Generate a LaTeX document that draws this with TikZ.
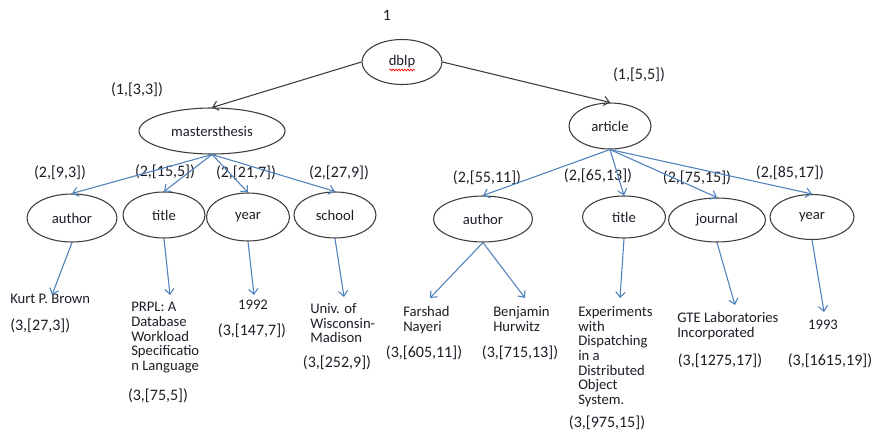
\documentclass[tikz,border=0pt]{standalone}
\usepackage{fontspec}
\setmainfont{Carlito}
\usetikzlibrary{shapes.geometric,arrows.meta,decorations.pathmorphing}
\definecolor{linkblue}{RGB}{79,129,189}
\definecolor{rim}{RGB}{60,60,60}
\definecolor{ink}{RGB}{30,30,40}
\tikzset{
  oval/.style 2 args={ellipse, draw=rim, line width=0.8pt, inner sep=0pt,
    minimum width=#1*0.75pt, minimum height=#2*0.75pt,
    font=\fontsize{11}{11}\selectfont, text=ink},
  tag/.style={font=\fontsize{12}{12}\selectfont, text=ink, inner sep=0pt},
  leaf/.style={font=\fontsize{11}{11}\selectfont, text=ink, inner sep=0pt, align=left},
  mainlink/.style={draw=rim, line width=0.8pt, -{Straight Barb[length=4pt,width=7pt]}},
  sublink/.style={draw=linkblue, line width=0.8pt, -{Straight Barb[length=4pt,width=7pt]}}
}
\begin{document}
\begin{tikzpicture}[x=0.75pt,y=-0.75pt]
\useasboundingbox[fill=white] (0,0) rectangle (872,435);

% level numbers and labels
\node[tag] (lvl) at (387,15) {1};
\node[tag] (l13) at (137,90) {(1,[3,3])};
\node[tag] (l15) at (639,75) {(1,[5,5])};

% root and its children
\node[oval={80}{45}] (dblp) at (402,62) {dblp};
\draw[red, line width=0.5pt, decorate, decoration={snake, amplitude=0.7pt, segment length=2.2pt}]
  ([xshift=-9.5pt,yshift=-6pt]dblp.center) -- ([xshift=9.5pt,yshift=-6pt]dblp.center);
\node[oval={146}{46}] (mt) at (212,131) {mastersthesis};
\node[oval={82}{46}] (art) at (610,126) {article};
\draw[mainlink] (dblp.west) -- (mt.north);
\draw[mainlink] (dblp.east) -- (art.north);

% mastersthesis subtree
\node[tag] (l2a) at (60,173) {(2,[9,3])};
\node[tag] (l2b) at (165,172) {(2,[15,5])};
\node[tag] (l2c) at (246,173) {(2,[21,7])};
\node[tag] (l2d) at (339,173) {(2,[27,9])};
\node[oval={90}{48}] (au1) at (72,218) {author};
\node[oval={82}{46}] (ti1) at (164,215) {title};
\node[oval={83}{48}] (ye1) at (248,217) {year};
\node[oval={82}{46}] (sc1) at (335,215) {school};
\draw[sublink] (mt.south) -- (au1.north);
\draw[sublink] (mt.south) -- (ti1.north);
\draw[sublink] (mt.south) -- (ye1.north);
\draw[sublink] (mt.south) -- (sc1.north);

\node[leaf, anchor=west] (v1) at (10,299) {Kurt P. Brown};
\node[tag, anchor=west] (l3a) at (10,326) {(3,[27,3])};
\node[leaf, anchor=north west] (v2) at (131,302) {PRPL: A\\Database\\Workload\\Specificatio\\n Language};
\node[tag] (l3b) at (158,396) {(3,[75,5])};
\node[leaf] (v3) at (253,305) {1992};
\node[tag] (l3c) at (252,331) {(3,[147,7])};
\node[leaf, anchor=north west] (v4) at (310,303) {Univ. of\\Wisconsin-\\Madison};
\node[tag] (l3d) at (337,363) {(3,[252,9])};

\coordinate (e1) at (52,295);
\coordinate (e2) at (170,295);
\coordinate (e3) at (254,295);
\coordinate (e4) at (344,297);
\draw[sublink] (au1.south) -- (e1);
\draw[sublink] (ti1.south) -- (e2);
\draw[sublink] (ye1.south) -- (e3);
\draw[sublink] (sc1.south) -- (e4);

% article subtree
\node[tag] (l2e) at (487,178) {(2,[55,11])};
\node[tag] (l2f) at (598,176) {(2,[65,13])};
\node[tag] (l2g) at (697,178) {(2,[75,15])};
\node[tag] (l2h) at (790,173) {(2,[85,17])};
\node[oval={99}{46}] (au2) at (483,219) {author};
\node[oval={83}{42}] (ti2) at (624,217) {title};
\node[oval={97}{44}] (jo2) at (717,220) {journal};
\node[oval={84}{45}] (ye2) at (812,217) {year};
\draw[sublink] (art.south) -- (au2.north);
\draw[sublink] (art.south) -- (ti2.north);
\draw[sublink] (art.south) -- (jo2.north);
\draw[sublink] (art.south) -- (ye2.north);

\node[leaf, anchor=north west] (v5) at (403,306) {Farshad\\Nayeri};
\node[tag] (l3e) at (424,353) {(3,[605,11])};
\node[leaf, anchor=north west] (v6) at (493,306) {Benjamin\\Hurwitz};
\node[tag] (l3f) at (520,353) {(3,[715,13])};
\node[leaf, anchor=north west] (v7) at (578,306) {Experiments\\with\\Dispatching\\in a\\Distributed\\Object\\System.};
\node[tag] (l3g) at (607,423) {(3,[975,15])};
\node[leaf, anchor=north west] (v8) at (677,312) {GTE Laboratories\\Incorporated};
\node[tag] (l3h) at (720,361) {(3,[1275,17])};
\node[leaf] (v9) at (823,325) {1993};
\node[tag] (l3i) at (830,361) {(3,[1615,19])};

\coordinate (e5) at (430,298);
\coordinate (e6) at (525,298);
\coordinate (e7) at (620,298);
\coordinate (e8) at (735,305);
\coordinate (e9) at (824,312);
\draw[sublink] (au2.south) -- (e5);
\draw[sublink] (au2.south) -- (e6);
\draw[sublink] (ti2.south) -- (e7);
\draw[sublink] (jo2.south) -- (e8);
\draw[sublink] (ye2.south) -- (e9);
\end{tikzpicture}
\end{document}
